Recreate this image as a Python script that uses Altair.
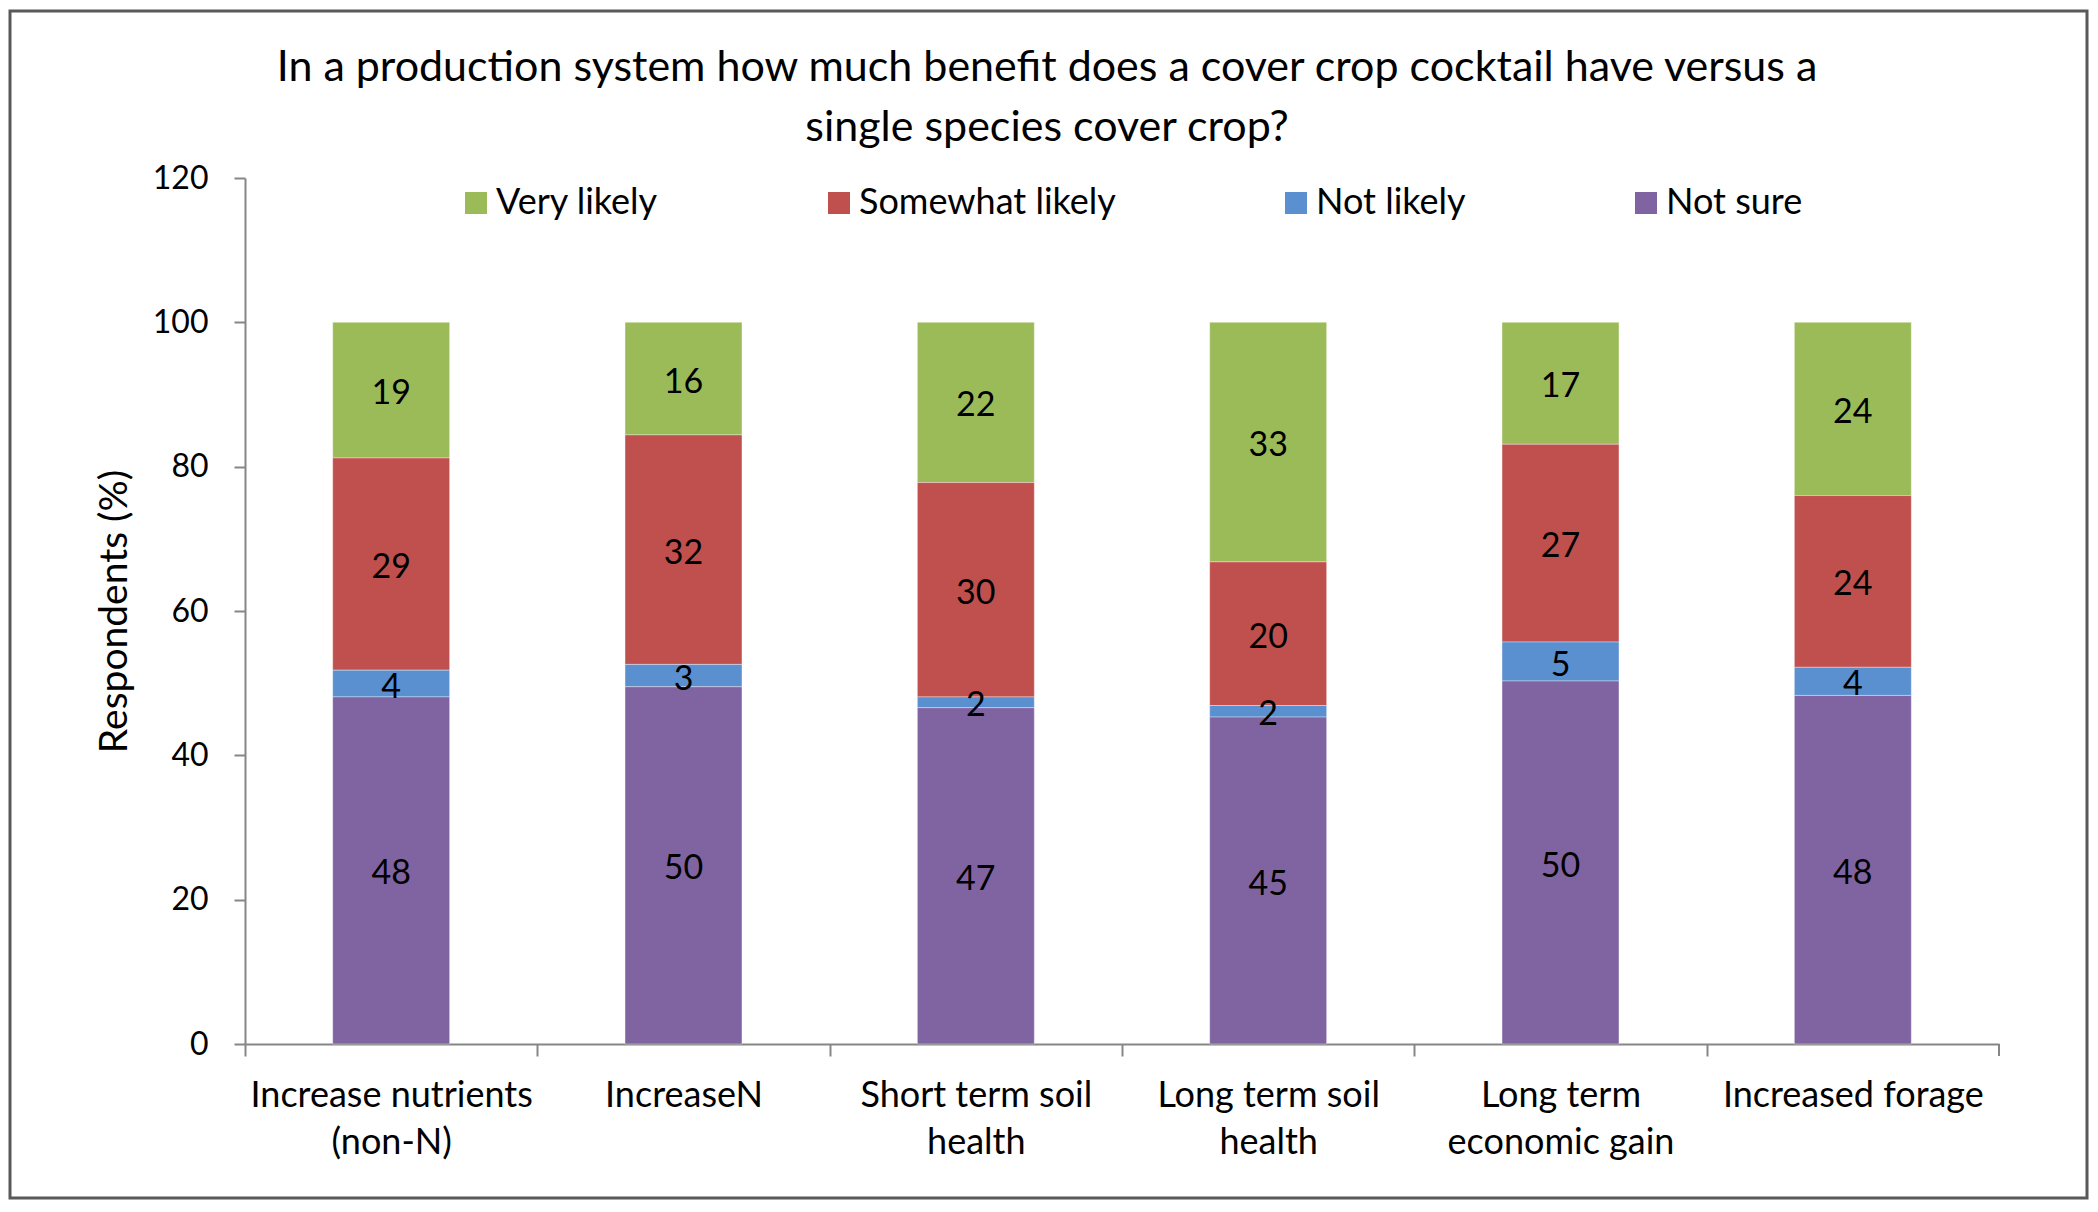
import altair as alt
import pandas as pd

categories = [
    "Increase nutrients\n(non-N)",
    "IncreaseN",
    "Short term soil\nhealth",
    "Long term soil\nhealth",
    "Long term\neconomic gain",
    "Increased forage",
]
series = ["Very likely", "Somewhat likely", "Not likely", "Not sure"]
very_likely = [18.8, 15.6, 22.2, 33.2, 16.9, 24.0]
somewhat_likely = [29.4, 31.8, 29.7, 19.9, 27.4, 23.8]
not_likely = [3.7, 3.1, 1.5, 1.6, 5.4, 3.9]
not_sure = [48.1, 49.5, 46.6, 45.3, 50.3, 48.3]
colors = ["#9BBB59", "#C0504D", "#5A8FD0", "#8064A2"]
y_ticks = [0, 20, 40, 60, 80, 100, 120]

values_by_series = {
    "Very likely": very_likely,
    "Somewhat likely": somewhat_likely,
    "Not likely": not_likely,
    "Not sure": not_sure,
}
stack_rank = {"Not sure": 0, "Not likely": 1, "Somewhat likely": 2, "Very likely": 3}
rows = []
for s in series:
    for c, v in zip(categories, values_by_series[s]):
        rows.append({"category": c, "series": s, "value": v, "rank": stack_rank[s]})
df = pd.DataFrame(rows)

W, H = 1754, 866
FONT = "Lato"
FS = 36

x_enc = alt.X(
    "category:N",
    sort=categories,
    scale=alt.Scale(paddingInner=0.6, paddingOuter=0.3),
    axis=alt.Axis(
        title=None,
        labelAngle=0,
        labelExpr="split(datum.label, '\\n')",
        labelFont=FONT,
        labelFontSize=FS,
        labelColor="black",
        labelLineHeight=47,
        labelPadding=22,
        labelLimit=400,
        domainColor="#868686",
        domainWidth=2,
        tickColor="#868686",
        tickWidth=2,
        tickSize=12,
        tickOffset=-W / 12,
        labelOffset=W / 12,
    ),
)
y_scale = alt.Scale(domain=[0, 120], nice=False)

base = alt.Chart(df)

bars = base.mark_bar(stroke="white", strokeWidth=0.6, strokeOpacity=0.6).encode(
    x=x_enc,
    y=alt.Y(
        "sum(value):Q",
        stack="zero",
        scale=y_scale,
        axis=alt.Axis(
            title="Respondents (%)",
            titleFont=FONT,
            titleFontSize=39,
            titleFontWeight="normal",
            titleColor="black",
            titlePadding=18,
            values=y_ticks,
            grid=False,
            labelFont=FONT,
            labelFontSize=32,
            labelColor="black",
            labelPadding=26,
            domainColor="#868686",
            domainWidth=2,
            tickColor="#868686",
            tickWidth=2,
            tickSize=11,
        ),
    ),
    color=alt.Color(
        "series:N",
        scale=alt.Scale(domain=series, range=colors),
        legend=alt.Legend(
            title=None,
            orient="none",
            legendX=213,
            legendY=7,
            direction="horizontal",
            columns=4,
            columnPadding=162,
            symbolType="square",
            symbolSize=484,
            symbolStrokeWidth=0,
            symbolOpacity=1,
            labelFont=FONT,
            labelFontSize=FS,
            labelColor="black",
            labelOffset=2,
            labelLimit=400,
        ),
    ),
    order=alt.Order("rank:Q", sort="ascending"),
)

labels = (
    base.transform_stack(
        stack="value", groupby=["category"], as_=["y0", "y1"], sort=[alt.SortField("rank", order="ascending")]
    )
    .transform_calculate(mid="(datum.y0 + datum.y1) / 2", lab="format(datum.value, '.0f')")
    .mark_text(font=FONT, fontSize=34, color="black", baseline="middle", dy=4)
    .encode(
        x=alt.X("category:N", sort=categories),
        y=alt.Y("mid:Q", scale=y_scale),
        text="lab:N",
    )
)

end_tick = (
    alt.Chart(pd.DataFrame({"k": [0]}))
    .mark_rule(color="#868686", strokeWidth=2)
    .encode(x=alt.value(W), y=alt.value(H), y2=alt.value(H + 12))
)

border = (
    alt.Chart(pd.DataFrame({"k": [0]}))
    .mark_rect(fill=None, stroke="#595959", strokeWidth=3)
    .encode(
        x=alt.value(-235),
        x2=alt.value(W + 88),
        y=alt.value(-167),
        y2=alt.value(H + 154),
    )
)

chart = (
    alt.layer(bars, labels, end_tick, border)
    .properties(
        width=W,
        height=H,
        padding={"left": 237, "top": 170, "right": 91, "bottom": 158},
        autosize=alt.AutoSizeParams(type="none"),
        background="white",
        title=alt.TitleParams(
            text=[
                "In a production system how much benefit does a cover crop cocktail have versus a",
                "single species cover crop?",
            ],
            font=FONT,
            fontSize=43,
            fontWeight="normal",
            color="black",
            anchor="middle",
            dx=-75,
            dy=140,
            lineHeight=60,
            offset=0,
        ),
    )
    .configure_view(strokeWidth=0, stroke="transparent")
)

chart.save("out.html", embed_options={"renderer": "svg", "actions": False})
